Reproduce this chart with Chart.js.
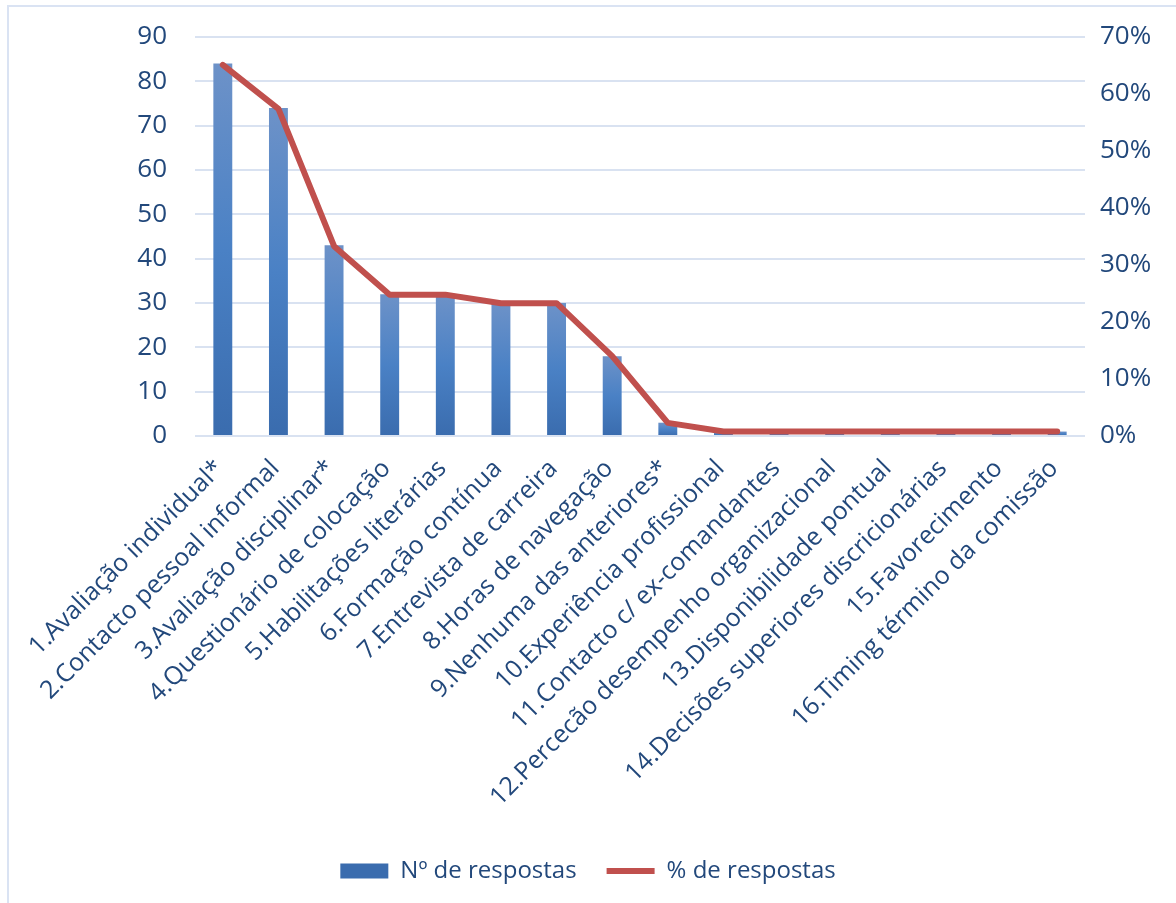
<!DOCTYPE html>
<html>
<head>
<meta charset="utf-8">
<script src="https://cdn.jsdelivr.net/npm/chart.js@4"></script>
<style>
  html, body { margin: 0; padding: 0; background: #fff; }
  #wrap { position: relative; width: 1176px; height: 903px; overflow: hidden; }
  #frame { position: absolute; left: 7px; top: 5px; right: -10px; bottom: -10px;
           border-top: 2px solid #DAE3F3; border-left: 2px solid #DAE3F3; }
  canvas { position: absolute; left: 0; top: 0; }
</style>
</head>
<body>
<div id="wrap">
  <div id="frame"></div>
  <canvas id="paretoChart" width="1176" height="903"></canvas>
</div>
<script>
// categories (x axis)
const categories = [
  '1.Avaliação individual*',
  '2.Contacto pessoal informal',
  '3.Avaliação disciplinar*',
  '4.Questionário de colocação',
  '5.Habilitações literárias',
  '6.Formação contínua',
  '7.Entrevista de carreira',
  '8.Horas de navegação',
  '9.Nenhuma das anteriores*',
  '10.Experiência profissional',
  '11.Contacto c/ ex-comandantes',
  '12.Percecão desempenho organizacional',
  '13.Disponibilidade pontual',
  '14.Decisões superiores discricionárias',
  '15.Favorecimento',
  '16.Timing término da comissão'
];

// Nº de respostas (left axis)
const respostas = [84, 74, 43, 32, 32, 30, 30, 18, 3, 1, 1, 1, 1, 1, 1, 1];

// % de respostas (right axis)
const percentagens = [65.1, 57.4, 33.3, 24.8, 24.8, 23.3, 23.3, 14.0, 2.3, 0.8, 0.8, 0.8, 0.8, 0.8, 0.8, 0.8];

// tick settings
const leftTicks = { min: 0, max: 90, step: 10 };
const rightTicks = { min: 0, max: 70, step: 10 };

const textColor = '#22487B';
const gridColor = '#D9E2F1';
const fontFamily = '"Open Sans", "Noto Sans", sans-serif';

function barGradient(c) {
  const chart = c.chart;
  if (c.type !== 'data' || !chart.chartArea || !chart.scales.y) return '#4A7EC1';
  const y = chart.scales.y;
  const top = y.getPixelForValue(c.raw);
  const base = y.getPixelForValue(0);
  if (!(base - top > 0)) return '#4A7EC1';
  const g = chart.ctx.createLinearGradient(0, top, 0, base);
  g.addColorStop(0, '#6D92C8');
  g.addColorStop(0.5, '#4A81C5');
  g.addColorStop(1, '#3A6CAE');
  return g;
}

// fixed axis sizes, and no extra top/bottom padding from the tick labels
function fixWidth(w) {
  return function (s) {
    s.width = w;
    s.paddingTop = 0;
    s.paddingBottom = 0;
  };
}

const ctx = document.getElementById('paretoChart').getContext('2d');
const chart = new Chart(ctx, {
  type: 'bar',
  data: {
    labels: categories,
    datasets: [
      {
        type: 'line',
        label: '% de respostas',
        data: percentagens,
        yAxisID: 'y1',
        borderColor: '#C0504D',
        backgroundColor: '#C0504D',
        borderWidth: 6,
        pointRadius: 0,
        pointHoverRadius: 0,
        pointStyle: 'line',
        borderCapStyle: 'round',
        borderJoinStyle: 'round',
        tension: 0,
        order: 0
      },
      {
        type: 'bar',
        label: 'Nº de respostas',
        data: respostas,
        yAxisID: 'y',
        backgroundColor: barGradient,
        borderWidth: 0,
        barPercentage: 0.34,
        categoryPercentage: 1,
        pointStyle: 'rect',
        order: 1
      }
    ]
  },
  options: {
    responsive: false,
    animation: false,
    layout: { padding: { top: 37, left: 0, right: 0, bottom: 10 } },
    plugins: {
      tooltip: { enabled: false },
      legend: {
        position: 'bottom',
        reverse: true,
        labels: {
          usePointStyle: true,
          pointStyleWidth: 48,
          boxHeight: 15,
          padding: 30,
          color: textColor,
          font: { family: fontFamily, size: 24 }
        }
      }
    },
    scales: {
      x: {
        grid: { display: false },
        border: { display: false },
        ticks: {
          autoSkip: false,
          maxRotation: 45,
          minRotation: 45,
          padding: 10,
          labelOffset: -3,
          color: textColor,
          font: { family: fontFamily, size: 25 }
        },
        afterFit: function (s) { s.height = 393; }
      },
      y: {
        position: 'left',
        min: leftTicks.min,
        max: leftTicks.max,
        ticks: {
          stepSize: leftTicks.step,
          padding: 28,
          color: textColor,
          font: { family: fontFamily, size: 26 }
        },
        grid: { color: gridColor, lineWidth: 2, drawTicks: false },
        border: { display: false },
        afterFit: fixWidth(195)
      },
      y1: {
        position: 'right',
        min: rightTicks.min,
        max: rightTicks.max,
        ticks: {
          stepSize: rightTicks.step,
          padding: 15,
          color: textColor,
          font: { family: fontFamily, size: 26 },
          callback: function (v) { return v + '%'; }
        },
        grid: { display: false, drawTicks: false },
        border: { display: false },
        afterFit: fixWidth(91)
      }
    }
  }
});
</script>
</body>
</html>
